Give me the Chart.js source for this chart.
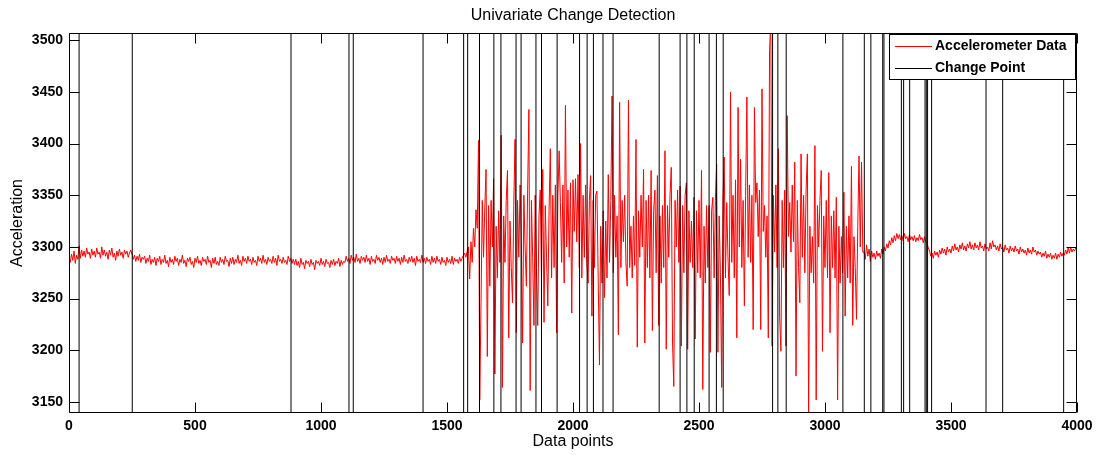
<!DOCTYPE html>
<html>
<head>
<meta charset="utf-8">
<script src="https://cdn.jsdelivr.net/npm/chart.js@4/dist/chart.umd.min.js"></script>
<style>
  html, body { margin: 0; padding: 0; background: #fff; }
  #wrap { width: 1099px; height: 455px; position: relative; }
</style>
</head>
<body>
<div id="wrap"><canvas id="c" width="1099" height="455"></canvas></div>
<script>
// ---- data ----
const chartTitle = 'Univariate Change Detection';
const xTitle = 'Data points';
const yTitle = 'Acceleration';
const seriesName = 'Accelerometer Data';
const changeName = 'Change Point';

const xTicks = [0, 500, 1000, 1500, 2000, 2500, 3000, 3500, 4000];
const yTicks = [3150, 3200, 3250, 3300, 3350, 3400, 3450, 3500];
const xRange = [0, 4000];
const yRange = [3139.3, 3507];

// quiet start, samples every 5 points from 0 to 1570
const headStart = 0, headStep = 5;
const headValues = [
  3290,3285,3293,3287,3296,3284,3292,3288,3301,3289,
  3297,3291,3296,3290,3299,3293,3295,3289,3298,3292,
  3296,3290,3299,3293,3295,3289,3300,3292,3297,3291,
  3295,3288,3297,3292,3299,3290,3294,3287,3296,3291,
  3298,3292,3295,3289,3297,3293,3296,3290,3294,3297,
  3293,3288,3292,3286,3291,3287,3293,3285,3290,3288,
  3291,3284,3289,3286,3292,3283,3288,3285,3290,3282,
  3289,3286,3291,3283,3288,3285,3292,3284,3287,3281,
  3290,3285,3288,3283,3291,3286,3289,3282,3288,3285,
  3292,3284,3287,3281,3289,3286,3290,3283,3286,3280,
  3289,3285,3291,3284,3287,3282,3290,3286,3288,3283,
  3291,3285,3287,3280,3289,3284,3290,3283,3286,3282,
  3290,3285,3288,3283,3291,3286,3287,3281,3289,3284,
  3290,3283,3288,3285,3292,3284,3287,3282,3291,3286,
  3289,3284,3291,3286,3288,3283,3290,3285,3287,3282,
  3291,3286,3289,3284,3292,3285,3288,3283,3290,3286,
  3288,3284,3291,3285,3289,3282,3292,3286,3288,3284,
  3290,3285,3287,3283,3291,3286,3289,3284,3288,3283,
  3288,3282,3286,3280,3289,3283,3285,3279,3287,3284,
  3286,3281,3288,3283,3285,3278,3287,3284,3286,3282,
  3289,3283,3286,3281,3288,3284,3285,3280,3287,3283,
  3288,3282,3286,3284,3289,3281,3287,3283,3286,3285,
  3291,3286,3289,3284,3292,3287,3290,3285,3293,3286,
  3289,3284,3291,3287,3290,3285,3292,3286,3289,3283,
  3291,3286,3288,3284,3292,3287,3290,3285,3289,3283,
  3290,3285,3292,3286,3288,3284,3291,3287,3289,3284,
  3291,3286,3289,3283,3290,3285,3292,3286,3288,3284,
  3290,3286,3291,3285,3289,3282,3291,3286,3288,3285,
  3292,3285,3289,3284,3290,3286,3288,3283,3291,3285,
  3289,3284,3291,3286,3288,3283,3290,3285,3287,3282,
  3290,3285,3288,3284,3291,3283,3289,3286,3288,3284,
  3290,3286,3289,3292,3294
];

// active burst, samples every 5 points from 1575 to 3150
const burstStart = 1575, burstStep = 5;
const burstValues = [
  3290,3296,3300,3269,3305,3285,3318,3300,3336,3318,
  3403,3152,3246,3345,3290,3338,3375,3194,3340,3262,
  3345,3300,3366,3177,3320,3270,3335,3285,3408,3164,
  3330,3285,3345,3374,3212,3325,3280,3246,3340,3404,
  3217,3345,3290,3360,3305,3207,3350,3300,3262,3355,
  3433,3161,3345,3290,3224,3350,3280,3224,3330,3355,
  3270,3375,3227,3340,3290,3243,3335,3395,3270,3350,
  3280,3360,3217,3350,3393,3343,3285,3360,3265,3437,
  3300,3355,3290,3362,3236,3365,3315,3366,3305,3370,
  3280,3400,3270,3350,3290,3360,3285,3265,3345,3369,
  3233,3345,3280,3350,3354,3270,3186,3320,3265,3335,
  3251,3325,3270,3370,3285,3345,3446,3275,3350,3290,
  3330,3215,3440,3280,3345,3305,3350,3285,3262,3442,
  3280,3320,3270,3330,3282,3404,3203,3335,3290,3350,
  3300,3375,3207,3345,3280,3350,3270,3374,3219,3335,
  3355,3275,3369,3224,3330,3265,3340,3280,3393,3201,
  3340,3290,3350,3377,3207,3165,3345,3300,3355,3285,
  3359,3204,3340,3275,3350,3362,3201,3335,3285,3325,
  3280,3348,3211,3335,3275,3345,3270,3374,3162,3320,
  3265,3340,3280,3340,3198,3335,3348,3270,3345,3380,
  3198,3330,3275,3164,3345,3387,3270,3343,3290,3253,
  3450,3285,3350,3270,3365,3212,3435,3300,3385,3280,
  3345,3243,3350,3445,3290,3360,3285,3350,3220,3435,
  3343,3362,3310,3355,3220,3453,3315,3340,3290,3330,
  3212,3490,3520,3204,3350,3295,3360,3280,3395,3232,
  3199,3345,3280,3355,3204,3427,3310,3343,3295,3360,
  3305,3382,3175,3345,3280,3246,3390,3290,3350,3275,
  3355,3390,3140,3320,3275,3310,3265,3398,3152,3340,
  3300,3345,3374,3199,3330,3280,3345,3270,3372,3217,
  3330,3280,3335,3270,3348,3152,3320,3265,3310,3275,
  3353,3233,3320,3270,3330,3265,3378,3224,3310,3280,
  3230,3320,3388,3300,3382,3295
];

// quiet end, samples every 5 points from 3155 to 4000
const tailStart = 3155, tailStep = 5;
const tailValues = [
  3295,3288,3302,3291,3298,3286,3296,3290,3294,3288,
  3296,3291,3294,3289,3298,3293,3300,3296,3303,3299,
  3306,3302,3309,3304,3311,3306,3313,3308,3312,3307,
  3311,3306,3313,3308,3310,3305,3312,3307,3310,3306,
  3311,3305,3309,3306,3312,3307,3309,3304,3310,3305,
  3303,3299,3296,3291,3294,3289,3296,3292,3295,3290,
  3297,3293,3299,3294,3298,3292,3300,3295,3298,3294,
  3301,3296,3303,3297,3300,3295,3302,3298,3304,3297,
  3301,3296,3303,3299,3305,3298,3302,3297,3304,3299,
  3302,3297,3305,3299,3301,3296,3303,3298,3300,3296,
  3304,3298,3306,3300,3302,3297,3301,3296,3303,3298,
  3300,3295,3302,3297,3299,3294,3301,3296,3299,3295,
  3301,3296,3298,3293,3300,3295,3298,3294,3297,3292,
  3299,3294,3297,3293,3300,3295,3297,3292,3296,3293,
  3295,3290,3294,3291,3296,3289,3293,3290,3294,3288,
  3292,3289,3294,3288,3293,3290,3295,3291,3294,3292,
  3297,3293,3299,3294,3300,3295,3298,3296,3299,3297
];

// detected change points (x positions)
const changePoints = [
  40, 251, 881, 1111, 1128, 1405, 1566, 1582, 1629, 1686, 1714, 1774, 1794,
  1853, 1875, 1937, 2026, 2056, 2081, 2119, 2159, 2342, 2425, 2452, 2481,
  2540, 2569, 2596, 2792, 2813, 2846, 3071, 3156, 3182, 3229, 3234, 3303,
  3312, 3336, 3397, 3402, 3407, 3423, 3639, 3705, 3947
];

// ---- build library structures ----
function seg(start, step, vals) { return vals.map((v, i) => ({ x: start + i * step, y: v })); }
const accelPoints = [].concat(
  seg(headStart, headStep, headValues),
  seg(burstStart, burstStep, burstValues),
  seg(tailStart, tailStep, tailValues)
);
const cpPoints = [];
changePoints.forEach(c => {
  cpPoints.push({ x: c, y: yRange[0] }, { x: c, y: yRange[1] }, { x: c, y: null });
});

const FONT = '"Liberation Sans", Arial, Helvetica, sans-serif';
const RED = '#ff0000';

const matlabAxes = {
  id: 'matlabAxes',
  afterDatasetsDraw(chart) {
    const { ctx, chartArea: a, scales } = chart;
    ctx.save();
    ctx.strokeStyle = '#000';
    ctx.lineWidth = 1;
    const L = Math.round(a.left) + 0.5, R = Math.round(a.right) - 0.5;
    const T = Math.round(a.top) + 0.5, B = Math.round(a.bottom) - 0.5;
    ctx.beginPath();
    ctx.rect(L, T, R - L, B - T);
    ctx.stroke();
    const tl = 10;
    ctx.beginPath();
    xTicks.forEach(v => {
      const px = Math.round(scales.x.getPixelForValue(v)) + 0.5;
      ctx.moveTo(px, B); ctx.lineTo(px, B - tl);
      ctx.moveTo(px, T); ctx.lineTo(px, T + tl);
    });
    yTicks.forEach(v => {
      const py = Math.round(scales.y.getPixelForValue(v)) + 0.5;
      ctx.moveTo(L, py); ctx.lineTo(L + tl, py);
      ctx.moveTo(R, py); ctx.lineTo(R - tl, py);
    });
    ctx.stroke();

    // legend box (MATLAB style, inside top-right)
    const bx = 889.5, by = 34.5, bw = 186, bh = 45;
    ctx.fillStyle = '#fff';
    ctx.fillRect(bx, by, bw, bh);
    ctx.strokeRect(bx, by, bw, bh);
    const ds = chart.data.datasets;
    const rows = [ds[0], ds[1]];
    const ys = [46.5, 68.5];
    rows.forEach((d, i) => {
      ctx.strokeStyle = d.borderColor;
      ctx.beginPath();
      ctx.moveTo(895, ys[i]); ctx.lineTo(932, ys[i]);
      ctx.stroke();
      ctx.fillStyle = '#000';
      ctx.font = 'bold 14px ' + FONT;
      ctx.textAlign = 'left';
      ctx.textBaseline = 'middle';
      ctx.fillText(d.label, 935, ys[i]);
    });

    // title
    ctx.fillStyle = '#000';
    ctx.font = '16px ' + FONT;
    ctx.textAlign = 'center';
    ctx.textBaseline = 'middle';
    ctx.fillText(chartTitle, (a.left + a.right) / 2, 16);
    ctx.restore();
  }
};

new Chart(document.getElementById('c'), {
  type: 'line',
  data: {
    datasets: [
      {
        label: seriesName,
        data: accelPoints,
        borderColor: RED,
        backgroundColor: RED,
        borderWidth: 1,
        pointRadius: 0,
        tension: 0,
        order: 1
      },
      {
        label: changeName,
        data: cpPoints,
        borderColor: '#000',
        backgroundColor: '#000',
        borderWidth: 1,
        pointRadius: 0,
        spanGaps: false,
        order: 0
      }
    ]
  },
  options: {
    responsive: false,
    animation: false,
    events: [],
    layout: { padding: { top: 33, right: 22, left: 0, bottom: 0 } },
    plugins: { legend: { display: false }, tooltip: { enabled: false }, title: { display: false } },
    scales: {
      x: {
        type: 'linear',
        min: xRange[0], max: xRange[1],
        afterBuildTicks: s => { s.ticks = xTicks.map(v => ({ value: v })); },
        afterFit: s => { s.height = 42; },
        grid: { drawOnChartArea: false, drawTicks: false },
        border: { display: false },
        ticks: { color: '#000', font: { family: FONT, size: 14, weight: 'bold' }, padding: 5, maxRotation: 0, autoSkip: false, callback: v => String(v) },
        title: { display: true, text: xTitle, color: '#000', font: { family: FONT, size: 16 }, padding: { top: 0, bottom: 4 } }
      },
      y: {
        type: 'linear',
        min: yRange[0], max: yRange[1],
        afterBuildTicks: s => { s.ticks = yTicks.map(v => ({ value: v })); },
        afterFit: s => { s.width = 69; },
        grid: { drawOnChartArea: false, drawTicks: false },
        border: { display: false },
        ticks: { color: '#000', font: { family: FONT, size: 14, weight: 'bold' }, padding: 6, autoSkip: false, callback: v => String(v) },
        title: { display: true, text: yTitle, color: '#000', font: { family: FONT, size: 16 }, padding: { top: 8, bottom: 0 } }
      }
    }
  },
  plugins: [matlabAxes]
});
</script>
</body>
</html>
